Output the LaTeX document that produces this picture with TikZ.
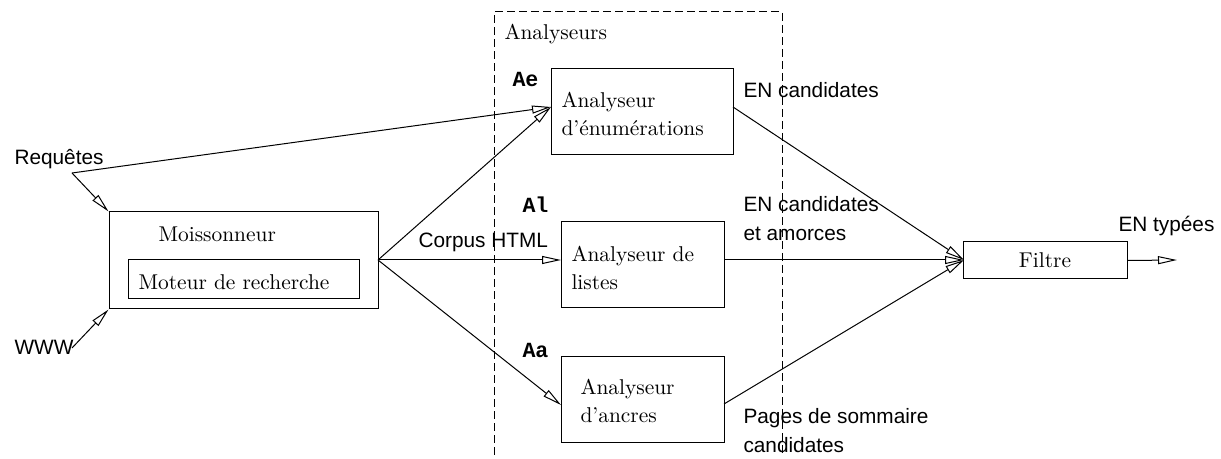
\documentclass[tikz,border=0pt]{standalone}
\usepackage{fontspec}
\setsansfont{Liberation Sans}
\setmonofont{Liberation Mono}
\usetikzlibrary{arrows.meta}
\newcommand{\twolines}[2]{\begin{tabular}[t]{@{}l@{}}#1\\#2\end{tabular}}
\begin{document}
\begin{tikzpicture}[x=0.5pt,y=-0.5pt,line width=0.5pt,
  >={Triangle[open,length=9.5pt,width=4pt]},
  box/.style={draw,inner sep=0pt},
  serif/.style={font=\fontsize{10.7}{13.75}\selectfont,inner sep=0pt,anchor=base west},
  sans/.style={font=\sffamily\fontsize{10.4}{14.5}\selectfont,inner sep=0pt,anchor=base west},
  code/.style={font=\ttfamily\bfseries\fontsize{10.8}{13}\selectfont,inner sep=0pt,anchor=base west},
  grp/.style={dash pattern=on 4pt off 2pt}]
\useasboundingbox (0,0) rectangle (1221,459);
% group of analysers
\coordinate (gbl) at (494,455);
\coordinate (gtl) at (494,12);
\coordinate (gtr) at (782,12);
\coordinate (gbr) at (782,455);
\draw[grp] (gbl) -- (gtl) -- (gtr) -- (gbr);
\node[serif] (grplabel) at (504,40) {Analyseurs};
% boxes
\node[box,minimum width=134.5pt,minimum height=48.5pt] (moiss) at (243.5,260.5) {};
\node[box,minimum width=115.5pt,minimum height=19.5pt] (moteur) at (243.5,279.5) {};
\node[serif] (moisstext) at (158,242) {Moissonneur};
\node[serif] (moteurtext) at (138,290) {Moteur de recherche};
\node[box,minimum width=91pt,minimum height=43pt] (ae) at (642,112) {};
\node[box,minimum width=81.5pt,minimum height=43pt] (al) at (642.5,265) {};
\node[box,minimum width=81.5pt,minimum height=43pt] (aa) at (642.5,400) {};
\node[box,minimum width=82pt,minimum height=18.5pt] (filtre) at (1045,260.5) {};
\node[serif] (aetext) at (561,108) {\twolines{Analyseur}{d’énumérations}};
\node[serif] (altext) at (571,262) {\twolines{Analyseur de}{listes}};
\node[serif] (aatext) at (580,395) {\twolines{Analyseur}{d’ancres}};
\node[font=\fontsize{10.7}{13}\selectfont,inner sep=0pt] (filtretext) at (filtre.center) {Filtre};
% code labels
\node[code] (aelab) at (512,87) {Ae};
\node[code] (allab) at (522,213) {Al};
\node[code] (aalab) at (522,358) {Aa};
% sans labels
\node[sans] (req) at (14,165) {Requêtes};
\node[sans] (www) at (14,355) {WWW};
\node[sans] (corpus) at (418,248) {Corpus HTML};
\node[sans] (encand) at (743,98) {EN candidates};
\node[sans] (encand2) at (743,212) {\twolines{EN candidates}{et amorces}};
\node[sans] (pages) at (743,424) {\twolines{Pages de sommaire}{candidates}};
\node[sans] (typees) at (1118,232) {EN typées};
% coordinates for connectors
\coordinate (reqj) at (72,173);
\coordinate (wwwj) at (72,348);
\coordinate (moissout) at (378,260);
\coordinate (aein) at (551,107);
\coordinate (aeout) at (733,107);
\coordinate (alin) at (561,260);
\coordinate (alout) at (724,260);
\coordinate (aain) at (561,405);
\coordinate (aaout) at (724,404);
\coordinate (filtrein) at (964,260);
\coordinate (out) at (1177,260);
% connectors
\draw[->] (reqj) -- (moiss.north west);
\draw[->] (reqj) -- (aein);
\draw[->] (wwwj) -- (moiss.south west);
\draw[->] (moissout) -- (aein);
\draw[->] (moissout) -- (alin);
\draw[->] (moissout) -- (aain);
\draw[->] (aeout) -- (filtrein);
\draw[->] (alout) -- (filtrein);
\draw[->] (aaout) -- (filtrein);
\draw[->] (filtre.east) -- (out);
\end{tikzpicture}
\end{document}
